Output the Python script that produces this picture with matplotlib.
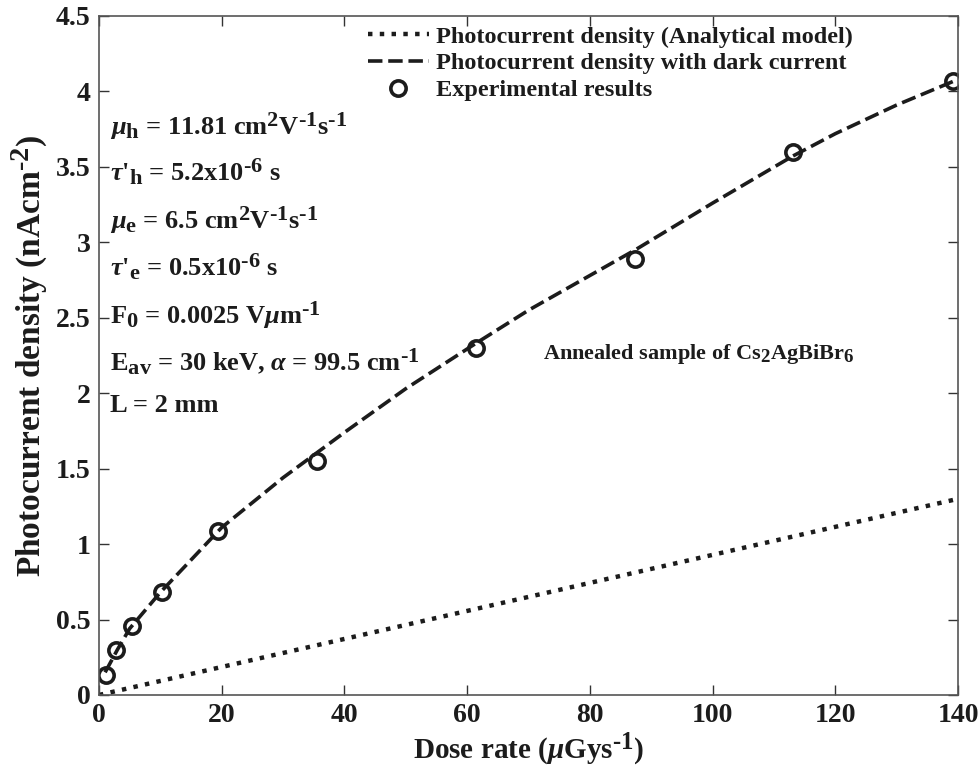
import numpy as np
import matplotlib
import matplotlib.pyplot as plt
import matplotlib._mathtext as mt

plt.rcParams['font.family'] = 'Liberation Serif'
plt.rcParams['font.weight'] = 'bold'
plt.rcParams['axes.labelweight'] = 'bold'
plt.rcParams['mathtext.fontset'] = 'custom'
plt.rcParams['mathtext.rm'] = 'Liberation Serif:bold'
plt.rcParams['mathtext.bf'] = 'Liberation Serif:bold'
plt.rcParams['mathtext.it'] = 'Liberation Serif:italic:bold'
plt.rcParams['mathtext.default'] = 'rm'
# larger sub/superscripts
mt.SHRINK_FACTOR = 0.85

# measured points
exp_dose = [1.1, 2.8, 5.4, 10.3, 19.4, 35.5, 61.4, 87.4, 113.1, 139.2]
exp_j = [0.13, 0.30, 0.46, 0.68, 1.09, 1.55, 2.30, 2.89, 3.60, 4.07]

# model with dark current
dark_dose = [1, 3, 5, 10, 20, 30, 40, 50, 61.4, 70, 80, 87.4, 100, 113, 120, 130, 140]
dark_j = [0.15, 0.30, 0.44, 0.68, 1.11, 1.44, 1.74, 2.03, 2.33, 2.55, 2.78,
          2.95, 3.26, 3.57, 3.72, 3.91, 4.08]

# analytical model (linear)
ana_dose = [0, 140]
ana_j = [0.0, 1.30]

ink = '#1c1c1c'
H = r'\text{-}'  # plain hyphen in exponents

fig = plt.figure(figsize=(9.8, 7.76), dpi=100)
ax = fig.add_axes([0.101, 0.1044, 0.8766, 0.875])

ax.plot(ana_dose, ana_j, ':', color=ink, lw=3.2,
        label='Photocurrent density (Analytical model)')
ax.plot(dark_dose, dark_j, color=ink, lw=2.6, dashes=(4, 1.6),
        label='Photocurrent density with dark current')
ax.plot(exp_dose, exp_j, 'o', color=ink, mfc='none', ms=11, mew=2.6,
        label='Experimental results')

ax.set_xlim(0, 140)
ax.set_ylim(0, 4.5)
ax.set_xticks(np.arange(0, 141, 20))
ax.set_yticks(np.arange(0, 4.6, 0.5))
ax.set_yticklabels(['0', '0.5', '1', '1.5', '2', '2.5', '3', '3.5', '4', '4.5'])
ax.tick_params(direction='in', length=7, width=1, top=True, right=True,
               labelsize=20, colors='#333333', labelcolor=ink, pad=6)
for s in ax.spines.values():
    s.set_color('#555555')
    s.set_linewidth(1.2)

ax.set_xlabel(r'Dose rate ($\mathit{\mu}$Gys$^{%s1}$)' % H, fontsize=21, color=ink, labelpad=2)
ax.set_ylabel(r'Photocurrent density (nAcm$^{%s2}$)' % H, fontsize=24, color=ink, labelpad=4)

leg = ax.legend(loc='upper left', bbox_to_anchor=(0.313, 0.986), frameon=False,
                fontsize=17.5, handlelength=2.5, handletextpad=0.3, labelspacing=0.2,
                borderpad=0, borderaxespad=0)
for t in leg.get_texts():
    t.set_color(ink)

params = [
    r'$\mathit{\mu}_{\mathrm{h}}$ = 11.81 cm$^2$V$^{%s1}$s$^{%s1}$' % (H, H),
    r"$\mathit{\tau}\text{'}_{\mathrm{h}}$ = 5.2x10$^{%s6}$ s" % H,
    r'$\mathit{\mu}_{\mathrm{e}}$ = 6.5 cm$^2$V$^{%s1}$s$^{%s1}$' % (H, H),
    r"$\mathit{\tau}\text{'}_{\mathrm{e}}$ = 0.5x10$^{%s6}$ s" % H,
    r'F$_0$ = 0.0025 V$\mathit{\mu}$m$^{%s1}$' % H,
    r'E$_{\mathrm{av}}$ = 30 keV, $\mathit{\alpha}$ = 99.5 cm$^{%s1}$' % H,
    r'L = 2 mm',
]
ys = [3.77, 3.47, 3.15, 2.84, 2.52, 2.21, 1.92]
for y, s in zip(ys, params):
    ax.text(1.8, y, s, fontsize=19, color=ink, va='center', ha='left')

ax.text(72.3, 2.26, r'Annealed sample of Cs$_2$AgBiBr$_6$', fontsize=16, color=ink,
        va='center', ha='left')

fig.savefig('out.png', dpi=100)
